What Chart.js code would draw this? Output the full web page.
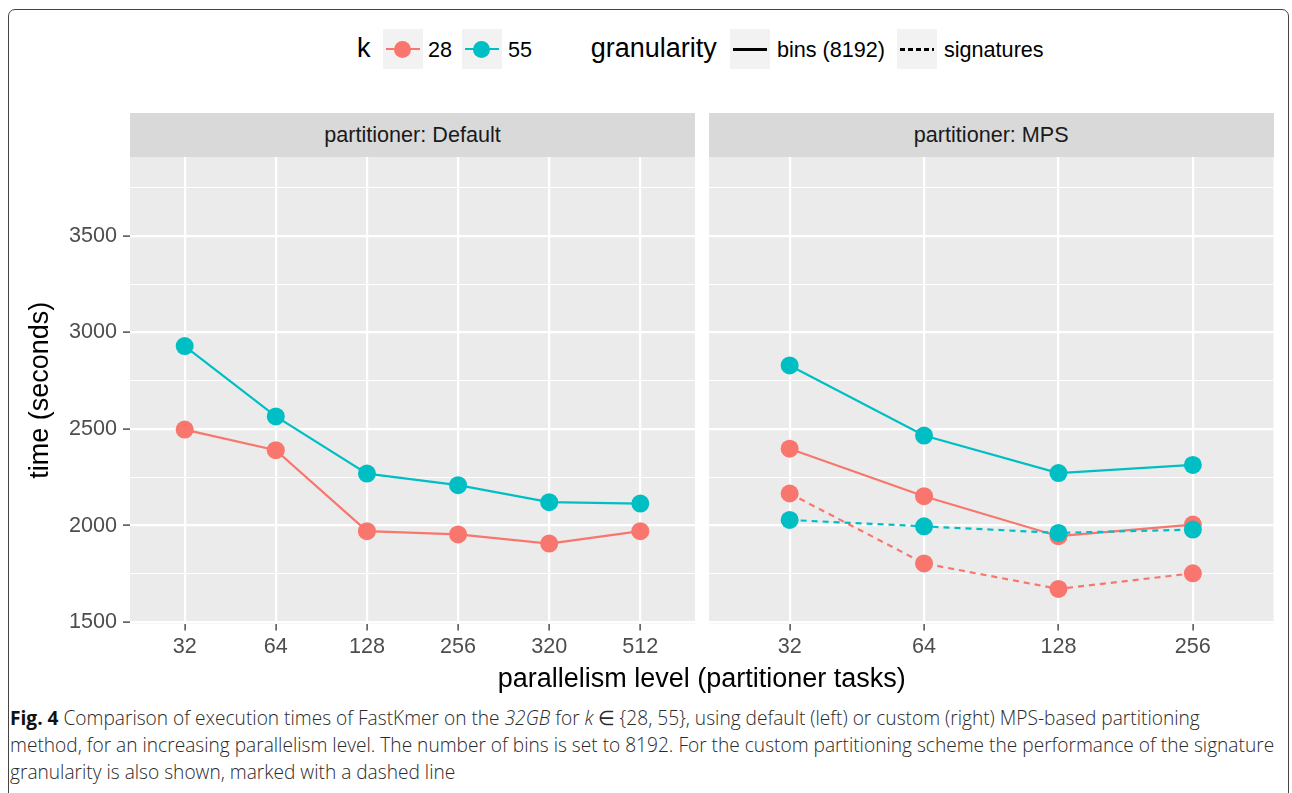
<!DOCTYPE html>
<html>
<head>
<meta charset="utf-8">
<script src="https://cdn.jsdelivr.net/npm/chart.js@4/dist/chart.umd.min.js"></script>
<style>
  html, body { margin:0; padding:0; background:#fff; }
  body { width:1292px; height:793px; position:relative; overflow:hidden; }
  .abs { position:absolute; white-space:nowrap; }
  #frame { position:absolute; left:7.5px; top:8.5px; width:1281px; height:900px;
           border:1.5px solid #444; border-radius:7px; box-sizing:border-box; }
  .strip { position:absolute; top:113.3px; height:43.7px; background:#D9D9D9;
           display:flex; align-items:center; justify-content:center;
           font:21.6px 'Liberation Sans', Arial, sans-serif; color:#1A1A1A; }
  .key { position:absolute; top:29.3px; width:40px; height:40px; background:#F2F2F2; }
  .kline { position:absolute; left:3px; width:34px; top:18.9px; height:2.2px; }
  .kpt { position:absolute; left:11.5px; top:11.5px; width:17px; height:17px; border-radius:50%; }
  canvas { position:absolute; }
  #caption { position:absolute; left:10px; top:704px; transform-origin:0 0;
             font:300 20px/27px 'Open Sans', 'Noto Sans', sans-serif; color:#2a2a2a; }
  #caption b { font-weight:700; color:#111; }
  #caption div { white-space:nowrap; }
</style>
</head>
<body>
<div id="frame"></div>
<canvas id="c1" width="700" height="560" style="left:0px;top:140px"></canvas>
<canvas id="c2" width="600" height="560" style="left:700px;top:140px"></canvas>
<div id="caption">
  <div id="cap1"><b>Fig. 4</b> Comparison of execution times of FastKmer on the <i>32GB</i> for <i>k</i> ∈ {28, 55}, using default (left) or custom (right) MPS-based partitioning</div>
  <div id="cap2">method, for an increasing parallelism level. The number of bins is set to 8192. For the custom partitioning scheme the performance of the signature</div>
  <div id="cap3">granularity is also shown, marked with a dashed line</div>
</div>
<script>
// ---------------- DATA ----------------
const defaultLevels = ['32', '64', '128', '256', '320', '512'];
const mpsLevels     = ['32', '64', '128', '256'];

const defaultK28Bins = [2497, 2390, 1971, 1954, 1907, 1971];
const defaultK55Bins = [2929, 2565, 2269, 2209, 2121, 2114];

const mpsK28Bins       = [2398, 2152, 1945, 2005];
const mpsK55Bins       = [2829, 2466, 2272, 2314];
const mpsK28Signatures = [2166, 1804, 1672, 1753];
const mpsK55Signatures = [2029, 1996, 1962, 1979];

const yTickValues = [1500, 2000, 2500, 3000, 3500];
const kLabels = ['28', '55'];
const granularityLabels = ['bins (8192)', 'signatures'];
const facetLabels = ['partitioner: Default', 'partitioner: MPS'];
const xTitle = 'parallelism level (partitioner tasks)';
const yTitle = 'time (seconds)';
const legendTitleK = 'k';
const legendTitleG = 'granularity';

// ---------------- STYLE ----------------
const FONT = "'Liberation Sans', Arial, Helvetica, sans-serif";
const RED = '#F8766D', TEAL = '#00BFC4';
const Y_MIN = 1493, Y_MAX = 3908;
const DASH = [6, 5];

// ---------------- HTML text (legend, strips, titles) ----------------
function addText(txt, left, baseline, size, color) {
  const d = document.createElement('div');
  d.className = 'abs';
  d.textContent = txt;
  d.style.left = left + 'px';
  d.style.top = (baseline - 0.8465 * size) + 'px';
  d.style.font = size + 'px/' + size + 'px ' + FONT;
  d.style.color = color;
  document.body.appendChild(d);
  return d;
}
function addKey(left, color, dashed, withPoint) {
  const k = document.createElement('div');
  k.className = 'key';
  k.style.left = left + 'px';
  const l = document.createElement('div');
  l.className = 'kline';
  if (dashed) {
    l.style.background = 'repeating-linear-gradient(to right,' + color + ' 0 4.7px, transparent 4.7px 8px)';
    l.style.height = '2.6px'; l.style.top = '18.7px';
  } else {
    l.style.background = color;
    if (!withPoint) { l.style.height = '2.6px'; l.style.top = '18.7px'; }
  }
  k.appendChild(l);
  if (withPoint) {
    const p = document.createElement('div');
    p.className = 'kpt';
    p.style.background = color;
    k.appendChild(p);
  }
  document.body.appendChild(k);
}
addText(legendTitleK, 357, 58, 27, '#000');
addKey(382.7, RED, false, true);
addText(kLabels[0], 428, 57.5, 21.6, '#000');
addKey(461.7, TEAL, false, true);
addText(kLabels[1], 508, 57.5, 21.6, '#000');
addText(legendTitleG, 590.7, 58, 27, '#000');
addKey(730, '#000', false, false);
addText(granularityLabels[0], 777, 57.5, 21.6, '#000');
addKey(896.7, '#000', true, false);
addText(granularityLabels[1], 944, 57.5, 21.6, '#000');

function addStrip(txt, left, width) {
  const s = document.createElement('div');
  s.className = 'strip';
  s.style.left = left + 'px';
  s.style.width = width + 'px';
  s.textContent = txt;
  document.body.appendChild(s);
}
addStrip(facetLabels[0], 130, 565);
addStrip(facetLabels[1], 709, 564.5);

const xt = addText(xTitle, 0, 688, 27, '#000');
xt.style.left = '701.75px';
xt.style.transform = 'translateX(-50%)';

// ---------------- Charts ----------------
const panelBg = {
  id: 'panelBg',
  beforeDraw(chart) {
    const a = chart.chartArea, c = chart.ctx;
    c.save(); c.fillStyle = '#EBEBEB';
    c.fillRect(a.left, a.top, a.right - a.left, a.bottom - a.top);
    c.restore();
  }
};

const yGridValues = [];
for (let v = yTickValues[0]; v <= yTickValues[yTickValues.length - 1] + 250; v += 250) yGridValues.push(v);
const isMajor = v => yTickValues.includes(v);

function seriesDatasets(values, color, dashed, lineOrder, pointOrder) {
  const pts = values.map((v, i) => ({ x: i, y: v }));
  return [
    { data: pts, borderColor: color, borderWidth: 2.2, borderDash: dashed ? DASH : [],
      pointRadius: 0, fill: false, tension: 0, order: lineOrder, borderCapStyle: 'butt' },
    { data: pts, showLine: false, pointRadius: 9, pointHoverRadius: 9, pointBorderWidth: 0,
      pointBackgroundColor: color, borderColor: color, order: pointOrder }
  ];
}

function makeChart(id, cats, datasets, withY, padding) {
  return new Chart(document.getElementById(id), {
    type: 'line',
    data: { datasets },
    plugins: [panelBg],
    options: {
      responsive: false, animation: false, devicePixelRatio: 1,
      layout: { padding, autoPadding: false },
      plugins: { legend: { display: false }, tooltip: { enabled: false } },
      events: [],
      scales: {
        x: {
          type: 'linear', min: -0.6, max: cats.length - 1 + 0.6,
          afterBuildTicks: s => { s.ticks = cats.map((_, i) => ({ value: i })); },
          afterFit: s => { s.height = 76.5; s.paddingLeft = 0; s.paddingRight = 0; },
          border: { display: false },
          grid: { color: '#FFFFFF', lineWidth: 2.2, drawTicks: true, tickLength: 7,
                  tickColor: '#333333', tickWidth: 1.3 },
          ticks: { callback: v => cats[v], autoSkip: false, maxRotation: 0,
                   padding: 4, color: '#4D4D4D', font: { family: FONT, size: 21.6 } }
        },
        y: {
          type: 'linear', min: Y_MIN, max: Y_MAX,
          afterBuildTicks: s => { s.ticks = yGridValues.map(v => ({ value: v })); },
          afterFit: s => { s.width = withY ? 130 : 0; s.paddingTop = 0; s.paddingBottom = 0; },
          border: { display: false },
          grid: {
            color: '#FFFFFF',
            lineWidth: c => (c.tick && isMajor(c.tick.value)) ? 2.2 : 1.1,
            drawTicks: withY, tickLength: 7, tickWidth: 1.3,
            tickColor: c => (c.tick && isMajor(c.tick.value)) ? '#333333' : 'rgba(0,0,0,0)'
          },
          ticks: { display: withY, callback: v => isMajor(v) ? String(v) : '',
                   padding: 6, color: '#4D4D4D', font: { family: FONT, size: 21.6 } },
          title: { display: withY, text: yTitle, color: '#000',
                   font: { family: FONT, size: 27 }, padding: { top: 24 } }
        }
      }
    }
  });
}

makeChart('c1', defaultLevels, [
  ...seriesDatasets(defaultK28Bins, RED, false, 20, 10),
  ...seriesDatasets(defaultK55Bins, TEAL, false, 18, 8)
], true, { left: 0, right: 5, top: 17, bottom: 0 });

makeChart('c2', mpsLevels, [
  ...seriesDatasets(mpsK28Bins, RED, false, 20, 10),
  ...seriesDatasets(mpsK28Signatures, RED, true, 19, 9),
  ...seriesDatasets(mpsK55Bins, TEAL, false, 18, 8),
  ...seriesDatasets(mpsK55Signatures, TEAL, true, 17, 7)
], false, { left: 9, right: 26.5, top: 17, bottom: 0 });

// ---------------- Caption fit ----------------
function fitCaption() {
  const cap = document.getElementById('caption');
  cap.style.transform = 'none';
  const w = document.getElementById('cap2').scrollWidth;
  const target = 1264;
  cap.style.transform = 'scaleX(' + (target / w) + ')';
}
fitCaption();
if (document.fonts && document.fonts.ready) document.fonts.ready.then(fitCaption);
</script>
</body>
</html>
